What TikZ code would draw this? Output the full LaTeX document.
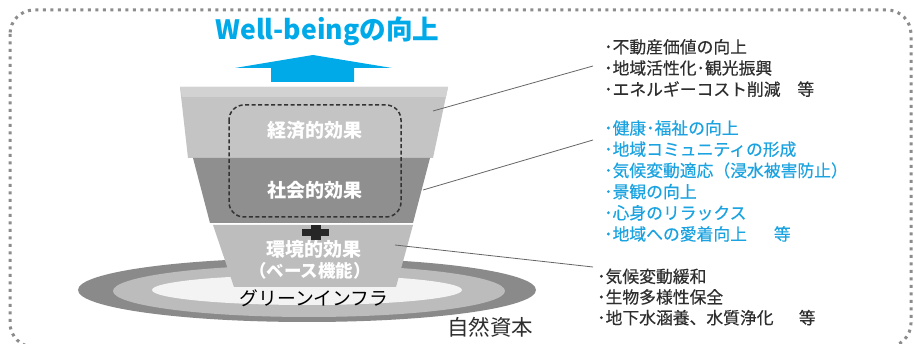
\documentclass[tikz,border=0pt]{standalone}
\usepackage{fontspec}
\setmainfont{Noto Sans CJK JP}
\definecolor{wbblue}{HTML}{00AAE9}
\definecolor{txtblue}{HTML}{1AA3E0}
\definecolor{txtdark}{HTML}{2E2E2E}
\definecolor{layerA}{HTML}{C4C4C4}
\definecolor{layerAtop}{HTML}{D2D2D2}
\definecolor{layerB}{HTML}{8F8F8F}
\definecolor{layerC}{HTML}{BDBDBD}
\definecolor{ringout}{HTML}{8A8A8A}
\definecolor{ringmid}{HTML}{BCBCBC}
\definecolor{ringin}{HTML}{F3F3F3}
\definecolor{dotgray}{HTML}{8C8C8C}
\tikzset{
  outerframe/.style={draw=dotgray, line width=3pt, dash pattern=on 3pt off 4.5pt, rounded corners=24pt},
  layerlabel/.style={text=white, font=\fontsize{19}{22}\selectfont\bfseries, inner sep=0pt},
  listtext/.style={anchor=west, align=left, inner sep=0pt, font=\fontsize{16.8}{21.2}\selectfont\addfontfeature{FakeBold=0.3}},
  leader/.style={draw=black!60, line width=0.8pt},
  dashbox/.style={draw=black!80, line width=1.5pt, dash pattern=on 4pt off 2.5pt, rounded corners=15pt},
}
\begin{document}
\begin{tikzpicture}[x=1pt,y=-1pt]
\useasboundingbox (0,0) rectangle (914,344);
\clip (0,0) rectangle (914,344);
\fill[white] (0,0) rectangle (914,344);
% outer dotted frame
\draw[outerframe] (10,10) rectangle (911,347);

% title and arrow
\node[text=wbblue, font=\fontsize{26.6}{30}\selectfont\bfseries, inner sep=0pt] (title) at (327.5,31) {Well-beingの向上};
\fill[wbblue] (235,68) -- (313,55) -- (392,68) -- (354,68) -- (354,82) -- (271,82) -- (271,68) -- cycle;

% base ellipses
\fill[ringout] (307,290) ellipse [x radius=229, y radius=32];
\fill[ringmid] (309,291) ellipse [x radius=196, y radius=26];
\fill[ringin] (307,290) ellipse [x radius=155, y radius=15];

% funnel layers
\fill[layerA] (180,87) -- (448,87) -- (433,158) -- (188,158) -- cycle;
\fill[layerAtop] (180,87) -- (448,87) -- (446,97) -- (182,97) -- cycle;
\fill[layerB] (193,158) -- (430,158) -- (413,223) -- (210,223) -- cycle;
\fill[layerC] (213,225) -- (413,225) -- (396,287) -- (234,287) -- cycle;

% dashed box
\draw[dashbox] (229,105) rectangle (401,217);

% layer labels
\node[layerlabel] (econ) at (315,130) {経済的効果};
\node[layerlabel] (soc) at (315,190) {社会的効果};
\node[layerlabel] (env) at (314,249) {環境的効果};
\node[layerlabel, font=\fontsize{17.5}{20}\selectfont\bfseries] (base) at (310,271) {（ベース機能）};

% plus sign
\fill[black!85] (311,225) rectangle (321,240);
\fill[black!85] (302,229) rectangle (329,236);

% green infra, natural capital
\node[inner sep=0pt, font=\fontsize{18.8}{22}\selectfont, text=black] (gi) at (314,298) {グリーンインフラ};
\node[inner sep=0pt, font=\fontsize{21.5}{24}\selectfont, text=txtdark] (nc) at (490,327) {自然資本};

% right lists
\node[listtext, text=txtdark] (g1) at (604,68) {･不動産価値の向上\\･地域活性化･観光振興\\･エネルギーコスト削減\hspace{1.0em}等};
\node[listtext, text=txtblue] (g2) at (604,181) {･健康･福祉の向上\\･地域コミュニティの形成\\･気候変動適応（浸水被害防止）\\･景観の向上\\･心身のリラックス\\･地域への愛着向上\hspace{1.6em}等};
\node[listtext, text=txtdark, font=\fontsize{16.8}{20.7}\selectfont\addfontfeature{FakeBold=0.3}] (g3) at (597,297) {･気候変動緩和\\･生物多様性保全\\･地下水涵養、水質浄化\hspace{1.5em}等};

% leader lines
\coordinate (s1) at (433,111);
\coordinate (e1) at (593,66);
\coordinate (s2) at (423,190);
\coordinate (e2) at (593,140);
\coordinate (s3) at (395,245);
\coordinate (e3) at (593,267);
\draw[leader] (s1) -- (e1);
\draw[leader] (s2) -- (e2);
\draw[leader] (s3) -- (e3);
\end{tikzpicture}
\end{document}
